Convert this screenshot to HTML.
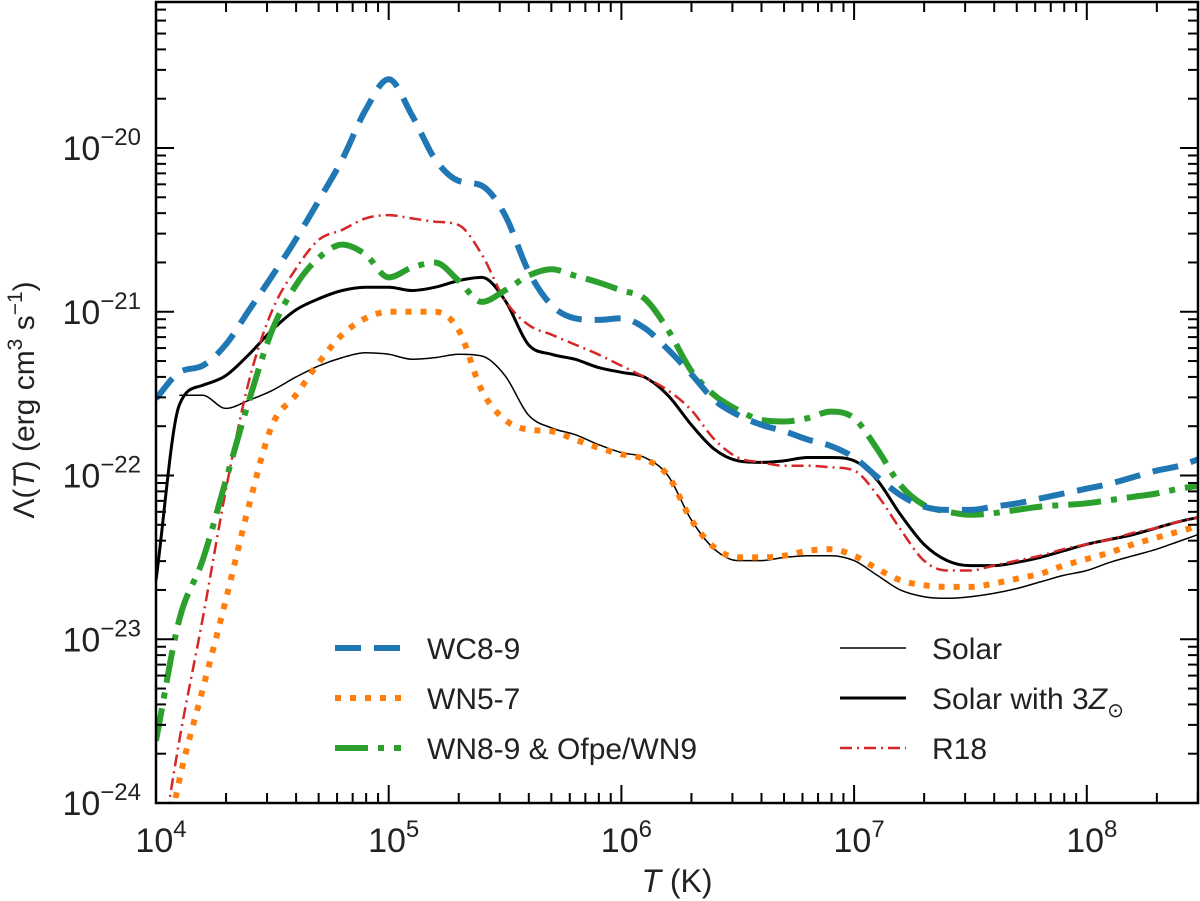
<!DOCTYPE html>
<html><head><meta charset="utf-8"><style>
body{margin:0;background:#fff}
svg{display:block;font-family:"Liberation Sans","DejaVu Sans",sans-serif}
</style></head><body>
<svg id="chart" width="1200" height="901" viewBox="0 0 1200 901">
<defs><clipPath id="clip"><rect x="156" y="2" width="1042" height="801"/></clipPath></defs>
<g id="series" clip-path="url(#clip)"></g>
<g id="axes"></g>
<g id="legend"></g>
</svg>
<script>
// log10(T) grid
const logT = [4.0,4.1,4.2,4.3,4.4,4.5,4.6,4.7,4.8,4.9,5.0,5.1,5.2,5.3,5.4,5.5,5.6,5.7,5.8,5.9,6.0,6.1,6.2,6.3,6.4,6.5,6.6,6.7,6.8,6.9,7.0,7.1,7.2,7.3,7.4,7.5,7.6,7.7,7.8,7.9,8.0,8.1,8.2,8.3,8.4,8.5];
// log10(Lambda) per series
const wc89 = [-21.53,-21.37,-21.33,-21.20,-20.99,-20.78,-20.56,-20.32,-20.07,-19.77,-19.58,-19.80,-20.07,-20.20,-20.23,-20.41,-20.75,-20.96,-21.04,-21.05,-21.04,-21.10,-21.23,-21.38,-21.54,-21.63,-21.69,-21.73,-21.78,-21.82,-21.89,-22.01,-22.12,-22.19,-22.21,-22.21,-22.19,-22.17,-22.14,-22.11,-22.08,-22.05,-22.01,-21.97,-21.94,-21.89];
const wn57 = [-24.6,-23.86,-23.31,-22.76,-22.18,-21.69,-21.51,-21.31,-21.14,-21.04,-21.00,-21.00,-21.00,-21.11,-21.48,-21.66,-21.72,-21.73,-21.78,-21.83,-21.87,-21.90,-22.00,-22.27,-22.44,-22.50,-22.50,-22.49,-22.46,-22.45,-22.49,-22.57,-22.64,-22.67,-22.68,-22.68,-22.66,-22.63,-22.60,-22.55,-22.51,-22.47,-22.42,-22.38,-22.34,-22.30];
const wn89 = [-23.62,-22.88,-22.52,-22.03,-21.54,-21.11,-20.84,-20.67,-20.59,-20.65,-20.79,-20.73,-20.70,-20.81,-20.94,-20.87,-20.78,-20.74,-20.78,-20.82,-20.87,-20.92,-21.11,-21.36,-21.51,-21.60,-21.66,-21.67,-21.65,-21.61,-21.65,-21.84,-22.06,-22.18,-22.22,-22.24,-22.23,-22.21,-22.19,-22.18,-22.17,-22.15,-22.13,-22.11,-22.08,-22.06];
const solar = [null,-21.51,-21.51,-21.59,-21.54,-21.48,-21.40,-21.33,-21.28,-21.25,-21.26,-21.29,-21.28,-21.26,-21.27,-21.39,-21.63,-21.71,-21.75,-21.81,-21.86,-21.89,-22.00,-22.27,-22.45,-22.52,-22.52,-22.50,-22.49,-22.49,-22.52,-22.61,-22.70,-22.74,-22.75,-22.74,-22.72,-22.69,-22.65,-22.61,-22.58,-22.53,-22.49,-22.45,-22.40,-22.35];
const solar3z = [-22.64,-21.57,-21.45,-21.39,-21.26,-21.11,-20.99,-20.92,-20.87,-20.85,-20.85,-20.87,-20.85,-20.81,-20.79,-20.93,-21.20,-21.26,-21.29,-21.34,-21.37,-21.40,-21.51,-21.69,-21.84,-21.91,-21.92,-21.91,-21.89,-21.89,-21.91,-22.03,-22.24,-22.42,-22.52,-22.55,-22.55,-22.53,-22.50,-22.46,-22.42,-22.39,-22.36,-22.32,-22.28,-22.25];
const r18 = [-24.5,-23.62,-22.88,-22.09,-21.42,-20.99,-20.74,-20.56,-20.50,-20.43,-20.41,-20.43,-20.45,-20.47,-20.65,-20.93,-21.08,-21.14,-21.20,-21.26,-21.33,-21.40,-21.48,-21.60,-21.78,-21.89,-21.92,-21.94,-21.94,-21.95,-21.97,-22.12,-22.33,-22.52,-22.58,-22.58,-22.55,-22.52,-22.49,-22.45,-22.42,-22.39,-22.35,-22.32,-22.28,-22.25];
const xTickExp = [4,5,6,7,8];
const yTickExp = [-24,-23,-22,-21,-20];

const NS="http://www.w3.org/2000/svg";
const X0=156,X1=1198,Y0=2,Y1=803;
const xMin=4, xMax=4+(X1-X0)/232.7;
const yMin=-24, yMax=-24+(Y1-Y0)/163.75;
function sx(l){return X0+(l-xMin)/(xMax-xMin)*(X1-X0);}
function sy(l){return Y1-(l-yMin)/(yMax-yMin)*(Y1-Y0);}
function mk(tag,attrs,parent){const e=document.createElementNS(NS,tag);for(const k in attrs)e.setAttribute(k,attrs[k]);parent.appendChild(e);return e;}

function monoPath(xs,ys){
  const n=xs.length; if(n<2)return "";
  const d=[],m=new Array(n);
  for(let i=0;i<n-1;i++)d.push((ys[i+1]-ys[i])/(xs[i+1]-xs[i]));
  m[0]=d[0];m[n-1]=d[n-2];
  for(let i=1;i<n-1;i++){m[i]=(d[i-1]*d[i]<=0)?0:(d[i-1]+d[i])/2;}
  for(let i=0;i<n-1;i++){if(d[i]===0){m[i]=0;m[i+1]=0;continue;}
    const a=m[i]/d[i],b=m[i+1]/d[i],s=a*a+b*b;if(s>9){const t=3/Math.sqrt(s);m[i]=t*a*d[i];m[i+1]=t*b*d[i];}}
  let p="M"+xs[0].toFixed(1)+","+ys[0].toFixed(1);
  for(let i=0;i<n-1;i++){const h=(xs[i+1]-xs[i])/3;
    p+=" C"+(xs[i]+h).toFixed(1)+","+(ys[i]+m[i]*h).toFixed(1)+" "+(xs[i+1]-h).toFixed(1)+","+(ys[i+1]-m[i+1]*h).toFixed(1)+" "+xs[i+1].toFixed(1)+","+ys[i+1].toFixed(1);}
  return p;
}
const styles={
 wc89:{stroke:"#1f77b4",w:6,dash:"26,13"},
 wn57:{stroke:"#ff7f0e",w:6,dash:"6,9"},
 wn89:{stroke:"#2ca02c",w:6,dash:"33,10,6,10"},
 solar:{stroke:"#000",w:1.5,dash:""},
 solar3z:{stroke:"#000",w:3,dash:""},
 r18:{stroke:"#d62728",w:2.5,dash:"12,5,2,5"}
};
const seriesG=document.getElementById('series');
const all={wc89,wn57,wn89,solar,solar3z,r18};
const order=["solar","solar3z","r18","wn57","wn89","wc89"];
order.forEach(k=>{
  const xs=[],ys=[];
  all[k].forEach((v,i)=>{if(v!==null){xs.push(sx(logT[i]));ys.push(sy(v));}});
  const st=styles[k];
  const p=mk('path',{d:monoPath(xs,ys),fill:"none",stroke:st.stroke,"stroke-width":st.w,"stroke-dasharray":st.dash},seriesG);
  
  
});

// axes
const ax=document.getElementById('axes');
const frame=mk('rect',{x:X0,y:Y0,width:X1-X0,height:Y1-Y0,fill:"none",stroke:"#000","stroke-width":2.5},ax);


for(let e=4;e<=8;e++){for(let k=1;k<=9;k++){const l=e+Math.log10(k);if(l>xMax)continue;const x=sx(l);const len=k===1?18:10;
  mk('line',{x1:x,y1:Y1,x2:x,y2:Y1-len,stroke:"#000","stroke-width":2},ax);
  mk('line',{x1:x,y1:Y0,x2:x,y2:Y0+len,stroke:"#000","stroke-width":2},ax);}}
for(let e=-24;e<=-20;e++){for(let k=1;k<=9;k++){const l=e+Math.log10(k);if(l>yMax)continue;const y=sy(l);const len=k===1?18:10;
  mk('line',{x1:X0,y1:y,x2:X0+len,y2:y,stroke:"#000","stroke-width":2},ax);
  mk('line',{x1:X1,y1:y,x2:X1-len,y2:y,stroke:"#000","stroke-width":2},ax);}}
xTickExp.forEach(e=>{
  const t=mk('text',{x:sx(e)+5,y:852,"text-anchor":"middle","font-size":34,fill:"#222"},ax);
  t.innerHTML='10<tspan dy="-15" font-size="24">'+e+'</tspan>';
  
  
});
yTickExp.forEach(e=>{
  const t=mk('text',{x:141,y:sy(e)+12,"text-anchor":"end","font-size":34,fill:"#222"},ax);
  t.innerHTML='10<tspan dy="-15" font-size="24">\u2212'+(-e)+'</tspan>';
  
  
});
const xl=mk('text',{x:677,y:892,"text-anchor":"middle","font-size":32,fill:"#222"},ax);
xl.innerHTML='<tspan font-style="italic">T</tspan> (K)';


const yl=mk('text',{x:0,y:0,"text-anchor":"middle","font-size":30,fill:"#222",transform:"translate(34,400) rotate(-90)"},ax);
yl.innerHTML='\u039B(<tspan font-style="italic">T</tspan>) (erg cm<tspan dy="-12" font-size="21">3</tspan><tspan dy="12"> s</tspan><tspan dy="-12" font-size="21">\u22121</tspan><tspan dy="12">)</tspan>';



// legend
const lg=document.getElementById('legend');
const entries=[["wc89","WC8-9",335,648],["wn57","WN5-7",335,698],["wn89","WN8-9 & Ofpe/WN9",335,748],
  ["solar","Solar",840,648],["solar3z","Solar with 3Z",840,698],["r18","R18",840,748]];
entries.forEach(en=>{
  const st=styles[en[0]];
  const g=mk('g',{},lg);
  
  
  mk('line',{x1:en[2],y1:en[3],x2:en[2]+66,y2:en[3],stroke:st.stroke,"stroke-width":st.w,"stroke-dasharray":st.dash},g);
  const t=mk('text',{x:en[2]+92,y:en[3]+11,"font-size":30,fill:"#222"},g);
  if(en[0]==="solar3z"){t.innerHTML='Solar with 3<tspan font-style="italic">Z</tspan><tspan dy="8" font-size="20">\u2299</tspan>';}
  else t.textContent=en[1];
});
</script>
</body></html>
